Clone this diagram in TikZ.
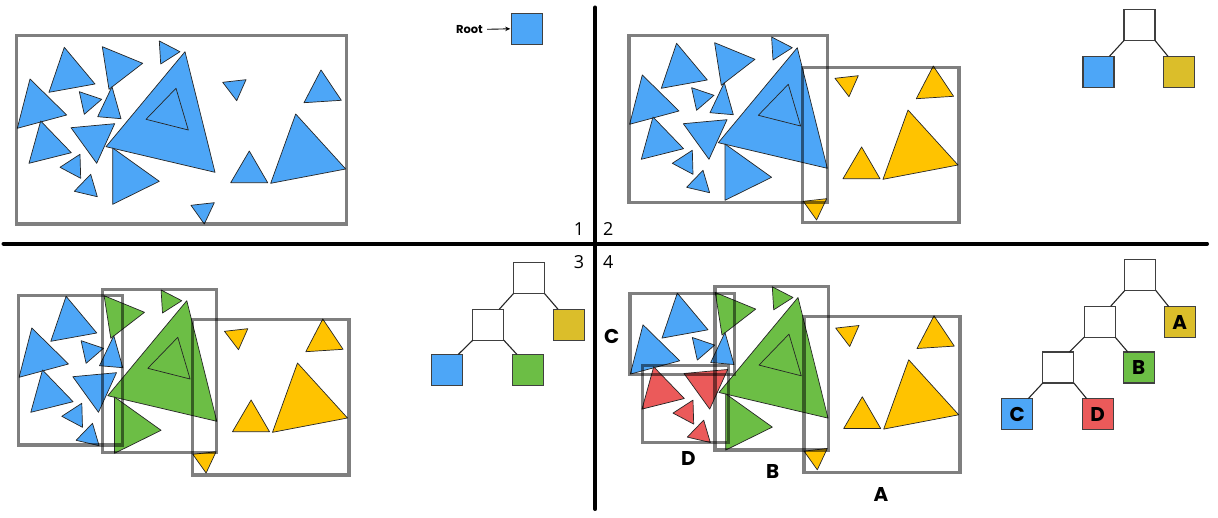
\documentclass[tikz,border=0pt]{standalone}
\usepackage{fontspec}
\setmainfont{Open Sans}
\newfontfamily\popf{Poppins}
\usetikzlibrary{arrows.meta}
\definecolor{tblue}{HTML}{4DA6F7}
\definecolor{tyel}{HTML}{FFC300}
\definecolor{tgreen}{HTML}{6CBE45}
\definecolor{tred}{HTML}{EB5A5A}
\definecolor{nyel}{HTML}{DBBE2A}
\tikzset{
  tri/.style={draw=black!85, line width=0.7bp, line join=round},
  bbox/.style={draw=black, draw opacity=0.5, line width=3.4bp},
  tnode/.style={draw=black!75, line width=1.1bp, minimum size=31bp, inner sep=0pt, outer sep=0pt, font=\popf\bfseries\fontsize{20}{20}\selectfont},
  tedge/.style={draw=black!85, line width=1.1bp},
  divider/.style={line width=4bp, line cap=round},
  qnum/.style={inner sep=0pt, font=\fontsize{18}{18}\selectfont},
  blab/.style={inner sep=0pt, font=\popf\bfseries\fontsize{20}{20}\selectfont}
}
% #1 group C, #2 group D, #3 group B, #4 group A
\newcommand{\trisetdraw}[4]{%
  \filldraw[tri, fill=#1] (64.3,47.3)--(49,92.3)--(95,84)--cycle;
  \filldraw[tri, fill=#3] (102.3,46.7)--(109,89.3)--(142.7,63.3)--cycle;
  \filldraw[tri, fill=#3] (159.3,41)--(160.7,64)--(180,51.7)--cycle;
  \filldraw[tri, fill=#3] (185,51.7)--(106,146.7)--(215,172.3)--cycle;
  \draw[tri] (176,88.3)--(146,119.3)--(188.3,130)--cycle;
  \filldraw[tri, fill=#1] (30,79)--(17.3,128.3)--(66.7,115)--cycle;
  \filldraw[tri, fill=#1] (79.3,91.7)--(84.3,114.3)--(101.7,99.3)--cycle;
  \filldraw[tri, fill=#1] (112,86.7)--(97.7,116.7)--(121,118.7)--cycle;
  \filldraw[tri, fill=#2] (40.7,121)--(29,163.3)--(71.3,152.7)--cycle;
  \filldraw[tri, fill=#2] (71,127.7)--(114.7,123.7)--(96.7,163.3)--cycle;
  \filldraw[tri, fill=#2] (80,154.3)--(60,167.3)--(80.7,178.3)--cycle;
  \filldraw[tri, fill=#2] (90.7,174.3)--(74.3,191.3)--(97.3,196.7)--cycle;
  \filldraw[tri, fill=#3] (112.7,148)--(112.7,204.3)--(159.3,181.3)--cycle;
  \filldraw[tri, fill=#4] (222.7,82.3)--(246,79.7)--(236.7,100.7)--cycle;
  \filldraw[tri, fill=#4] (321,70)--(304,102.7)--(341.3,100.3)--cycle;
  \filldraw[tri, fill=#4] (249.3,151)--(230.7,182.7)--(267.7,182.7)--cycle;
  \filldraw[tri, fill=#4] (295.7,114)--(270.7,183.3)--(345.7,169)--cycle;
  \filldraw[tri, fill=#4] (191,205.3)--(214.3,202.7)--(204.3,224)--cycle;
}
\begin{document}
\begin{tikzpicture}[x=1bp, y=-1bp]
\useasboundingbox[fill=white] (0,0) rectangle (1218,518);

% ---------- quadrant 1 ----------
\trisetdraw{tblue}{tblue}{tblue}{tblue}
\draw[bbox] (16.7,35.7) rectangle (346.7,224.2);
\node[tnode, fill=tblue] (r1) at (527.2,28.8) {};
\node[inner sep=0pt, font=\popf\bfseries\fontsize{11.5}{11.5}\selectfont] (rootlbl) at (469.5,29.3) {Root};
\draw[-{Stealth[length=5bp,width=4.5bp]}, line width=0.9bp] ([xshift=4bp]rootlbl.east) -- ([xshift=-1.5bp]r1.west);

% ---------- quadrant 2 ----------
\begin{scope}[shift={(612.3,-4)}]
\trisetdraw{tblue}{tblue}{tblue}{tyel}
\end{scope}
\draw[bbox] (629,35.7) rectangle (827.7,202.7);
\draw[bbox] (802.7,67.3) rectangle (959,222.3);
\node[tnode, fill=white] (r2) at (1139.5,25) {};
\node[tnode, fill=tblue] (r2l) at (1098.5,71.8) {};
\node[tnode, fill=nyel] (r2r) at (1179,71.8) {};
\draw[tedge] (r2.south west) -- ([xshift=-4.5bp]r2l.north east);
\draw[tedge] (r2.south east) -- ([xshift=4.5bp]r2r.north west);

% ---------- quadrant 3 ----------
\begin{scope}[shift={(1.8,249)}]
\trisetdraw{tblue}{tblue}{tgreen}{tyel}
\end{scope}
\draw[bbox] (18.3,295.7) rectangle (122.3,445);
\draw[bbox] (102.7,289.3) rectangle (216.7,452.3);
\draw[bbox] (192.3,319.3) rectangle (349,475);
\node[tnode, fill=white] (r3) at (529,278) {};
\node[tnode, fill=white] (m3) at (488.3,324.7) {};
\node[tnode, fill=nyel] (y3) at (569,324.7) {};
\node[tnode, fill=tblue] (b3) at (447.2,370) {};
\node[tnode, fill=tgreen] (g3) at (528,370) {};
\draw[tedge] (r3.south west) -- ([xshift=-4.5bp]m3.north east);
\draw[tedge] (r3.south east) -- ([xshift=4.5bp]y3.north west);
\draw[tedge] (m3.south west) -- ([xshift=-4.5bp]b3.north east);
\draw[tedge] (m3.south east) -- ([xshift=4.5bp]g3.north west);

% ---------- quadrant 4 ----------
\begin{scope}[shift={(613,245.8)}]
\trisetdraw{tblue}{tred}{tgreen}{tyel}
\end{scope}
\draw[bbox] (630,293.3) rectangle (734.3,374.3);
\draw[bbox] (642.7,365.7) rectangle (728.3,442.7);
\draw[bbox] (715,286.7) rectangle (828.3,450);
\draw[bbox] (804,316.7) rectangle (960,472.3);
\node[blab] (lc) at (611.7,336.7) {C};
\node[blab] (ld) at (688.3,458.3) {D};
\node[blab] (lb) at (772.7,471.7) {B};
\node[blab] (la) at (881,495) {A};
\node[tnode, fill=white] (r4) at (1140.3,275) {};
\node[tnode, fill=white] (m4a) at (1099.7,321.7) {};
\node[tnode, fill=nyel] (a4) at (1179.8,322.2) {A};
\node[tnode, fill=white] (m4b) at (1058.3,367.5) {};
\node[tnode, fill=tgreen] (b4) at (1138.8,367.5) {B};
\node[tnode, fill=tblue] (c4) at (1017.2,414.2) {C};
\node[tnode, fill=tred] (d4) at (1097.7,414.2) {D};
\draw[tedge] (r4.south west) -- ([xshift=-4.5bp]m4a.north east);
\draw[tedge] (r4.south east) -- ([xshift=4.5bp]a4.north west);
\draw[tedge] (m4a.south west) -- ([xshift=-4.5bp]m4b.north east);
\draw[tedge] (m4a.south east) -- ([xshift=4.5bp]b4.north west);
\draw[tedge] (m4b.south west) -- ([xshift=-4.5bp]c4.north east);
\draw[tedge] (m4b.south east) -- ([xshift=4.5bp]d4.north west);

% ---------- dividers and numbers ----------
\coordinate (vtop) at (595.3,7.5);
\coordinate (vbot) at (595.3,509);
\coordinate (hleft) at (3.5,243.7);
\coordinate (hright) at (1207,243.7);
\draw[divider] (vtop) -- (vbot);
\draw[divider] (hleft) -- (hright);
\node[qnum] (n1) at (579,229.3) {1};
\node[qnum] (n2) at (608.3,229.3) {2};
\node[qnum] (n3) at (579,262.3) {3};
\node[qnum] (n4) at (608.3,262.3) {4};
\end{tikzpicture}
\end{document}
